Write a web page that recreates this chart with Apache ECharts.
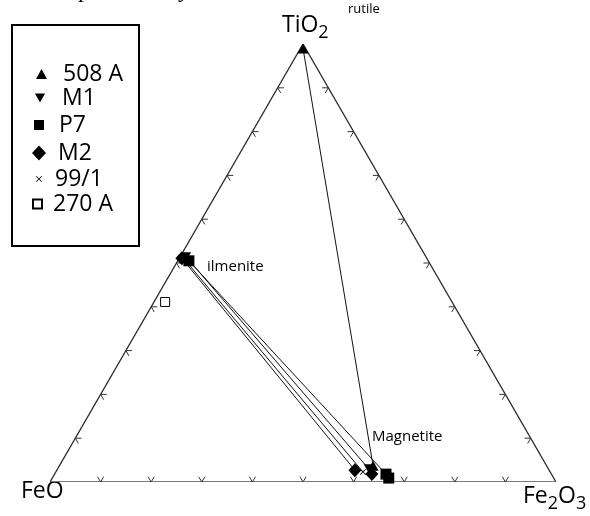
<!DOCTYPE html>
<html>
<head>
<meta charset="utf-8">
<script src="https://cdn.jsdelivr.net/npm/echarts@6/dist/echarts.min.js"></script>
<style>
  html, body { margin: 0; padding: 0; background: #fff; }
  #main { width: 590px; height: 516px; }
</style>
</head>
<body>
<div id="main"></div>
<script>
// FeO – Fe2O3 – TiO2 ternary, compositions as [TiO2, FeO, Fe2O3] mol %
const sampleNames = ['508 A', 'M1', 'P7', 'M2', '99/1', '270 A'];
const s508A = [[99.0, 0.5, 0.5], [3.7, 34.3, 62.0]];          // rutile, magnetite
const sM1   = [[51.4, 47.4, 1.2], [3.0, 35.5, 61.5]];         // ilmenite, magnetite
const sP7   = [[50.5, 47.3, 2.2], [1.8, 32.7, 65.5], [0.9, 32.6, 66.5]];
const sM2   = [[51.1, 48.4, 0.5], [2.7, 38.4, 58.9], [1.8, 35.5, 62.7]];
const s991  = [[50.7, 48.0, 1.3], [2.3, 37.0, 60.7]];
const s270A = [[41.1, 56.7, 2.2]];
const tickValues = [10, 20, 30, 40, 50, 60, 70, 80, 90];

const SQ = Math.sqrt(3) / 2;
// barycentric -> cartesian (FeO at origin, Fe2O3 at x = 1, TiO2 on top)
function toXY(c) {
  const s = c[0] + c[1] + c[2];
  return [(c[2] + c[0] / 2) / s, (c[0] / s) * SQ];
}

const FONT = '"Open Sans", Lato, sans-serif';
const ARM = 0.012;

// small chevron ticks pointing along the two grid directions into the triangle
function chevron(c, a1, a2) {
  const p = toXY(c);
  const r = d => [p[0] + ARM * Math.cos(d * Math.PI / 180), p[1] + ARM * Math.sin(d * Math.PI / 180)];
  return { coords: [r(a1), p, r(a2)] };
}
const tickData = [];
tickValues.forEach(v => {
  tickData.push(chevron([0, 100 - v, v], 60, 120));   // FeO – Fe2O3 side
  tickData.push(chevron([v, 100 - v, 0], 0, -60));    // FeO – TiO2 side
  tickData.push(chevron([v, 0, 100 - v], 180, 240));  // Fe2O3 – TiO2 side
});

const vTi = toXY([100, 0, 0]), vFeO = toXY([0, 100, 0]), vFe2 = toXY([0, 0, 100]);
const edgeData = [
  { coords: [vFeO, vFe2], lineStyle: { color: '#7a7a7a', width: 2, opacity: 1 } },
  { coords: [vFeO, vTi], lineStyle: { color: '#2a2a2a', width: 1.3, opacity: 1 } },
  { coords: [vFe2, vTi], lineStyle: { color: '#2a2a2a', width: 1.3, opacity: 1 } }
];

// tie lines between coexisting phases of each sample
const tieData = [s508A, sM1, sP7, sM2, s991].map(s => ({ coords: [toXY(s[0]), toXY(s[1])] }));

const INV_TRI = 'path://M0,0L10,0L5,9Z';
const CROSS = 'path://M0,1L1,0L5,4L9,0L10,1L6,5L10,9L9,10L5,6L1,10L0,9L4,5Z';

const markStyle = [
  { symbol: 'triangle', size: [11, 10], item: { color: '#000', opacity: 1 } },
  { symbol: INV_TRI, size: [10, 9], item: { color: '#000', opacity: 1 } },
  { symbol: 'rect', size: 11, item: { color: '#000', opacity: 1 } },
  { symbol: 'diamond', size: [13, 14], item: { color: '#000', opacity: 1 } },
  { symbol: CROSS, size: 6, item: { color: '#000', opacity: 1 } },
  { symbol: 'rect', size: 9, item: { color: '#fff', borderColor: '#000', borderWidth: 1, opacity: 1 } }
];
const sampleData = [s508A, sM1, sP7, sM2, s991, s270A];

const scatterSeries = sampleNames.map((name, i) => ({
  name,
  type: 'scatter',
  clip: false,
  z: 5,
  symbol: markStyle[i].symbol,
  symbolSize: markStyle[i].size,
  itemStyle: markStyle[i].item,
  data: sampleData[i].map(toXY)
}));

// legend rows: icon left, icon size, text start, row centre
const legendRows = [
  { left: 36, w: 11, h: 10, text: 63, cy: 74 },
  { left: 35, w: 10, h: 9, text: 62, cy: 98 },
  { left: 34, w: 10, h: 10, text: 59, cy: 125 },
  { left: 32, w: 14, h: 15, text: 58, cy: 153 },
  { left: 36, w: 6, h: 6, text: 55, cy: 179 },
  { left: 32, w: 9, h: 9, text: 52, cy: 204 }
];
const legends = sampleNames.map((name, i) => {
  const r = legendRows[i];
  return {
    data: [name],
    left: r.left,
    top: r.cy - 13,
    padding: 0,
    itemGap: 0,
    itemWidth: r.w,
    itemHeight: r.h,
    selectedMode: false,
    textStyle: {
      fontFamily: FONT, fontSize: 23, color: '#000', lineHeight: 26,
      padding: [0, 0, 0, r.text - r.left - r.w - 5]
    }
  };
});

const option = {
  animation: false,
  backgroundColor: '#fff',
  grid: { left: 50, right: 34, top: 44, bottom: 34 },
  xAxis: { type: 'value', min: 0, max: 1, show: false },
  yAxis: { type: 'value', min: 0, max: SQ, show: false },
  legend: legends,
  series: [
    { type: 'lines', coordinateSystem: 'cartesian2d', silent: true, z: 1, data: edgeData },
    { type: 'lines', coordinateSystem: 'cartesian2d', polyline: true, silent: true, z: 1,
      lineStyle: { color: '#333', width: 1, opacity: 1 }, data: tickData },
    { type: 'lines', coordinateSystem: 'cartesian2d', silent: true, z: 2,
      lineStyle: { color: '#111', width: 1, opacity: 1 }, data: tieData },
    ...scatterSeries
  ],
  graphic: [
    { type: 'rect', shape: { x: 12, y: 25, width: 127, height: 221 },
      style: { fill: 'none', stroke: '#000', lineWidth: 2 } },
    { type: 'text', x: 78, y: -9,
      style: { text: 'p', font: '24px "Liberation Serif", serif', fill: '#000', verticalAlign: 'middle' } },
    { type: 'text', x: 178, y: -9,
      style: { text: 'y', font: '24px "Liberation Serif", serif', fill: '#000', verticalAlign: 'middle' } },
    { type: 'text', x: 282, y: 25,
      style: {
        text: '{m|TiO}{s|2}', verticalAlign: 'middle', fill: '#000',
        rich: { m: { fontFamily: FONT, fontSize: 23 }, s: { fontFamily: FONT, fontSize: 18, padding: [16, 0, 0, 0] } }
      } },
    { type: 'text', x: 348, y: 9,
      style: { text: 'rutile', font: '13px ' + FONT, fill: '#000', verticalAlign: 'middle' } },
    { type: 'text', x: 21, y: 491,
      style: { text: 'FeO', font: '23px ' + FONT, fill: '#000', verticalAlign: 'middle' } },
    { type: 'text', x: 523, y: 496,
      style: {
        text: '{m|Fe}{s|2}{m|O}{s|3}', verticalAlign: 'middle', fill: '#000',
        rich: { m: { fontFamily: FONT, fontSize: 23 }, s: { fontFamily: FONT, fontSize: 18, padding: [16, 0, 0, 0] } }
      } },
    { type: 'text', x: 207, y: 267,
      style: { text: 'ilmenite', font: '15px ' + FONT, fill: '#000', verticalAlign: 'middle' } },
    { type: 'text', x: 372, y: 437,
      style: { text: 'Magnetite', font: '15px ' + FONT, fill: '#000', verticalAlign: 'middle' } }
  ]
};
const myChart = echarts.init(document.getElementById('main'));
myChart.setOption(option);
</script>
</body>
</html>
